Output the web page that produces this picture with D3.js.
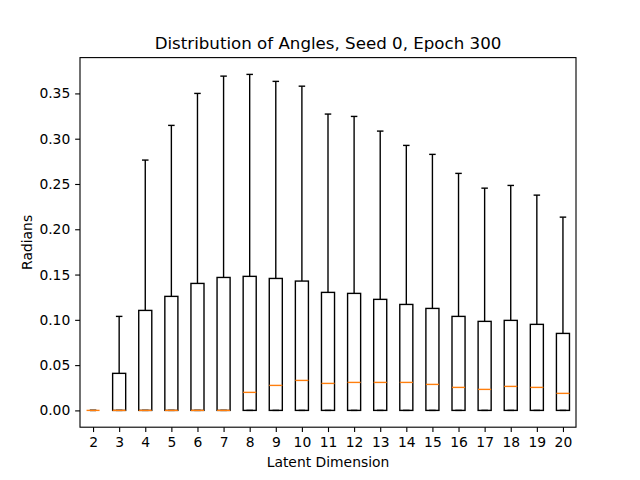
<!DOCTYPE html>
<html><head><meta charset="utf-8">
<script src="https://cdn.jsdelivr.net/npm/d3@7"></script>
<style>body{margin:0;background:#fff}svg{display:block}text{font-family:"DejaVu Sans",sans-serif}</style>
</head><body><svg id="c" width="640" height="480"></svg>
<script>
const categories = ["2","3","4","5","6","7","8","9","10","11","12","13","14","15","16","17","18","19","20"];
const whiskerLow = [0,0,0,0,0,0,0,0,0,0,0,0,0,0,0,0,0,0,0];
const q1 = [0,0,0,0,0,0,0,0,0,0,0,0,0,0,0,0,0,0,0];
const medians = [0,0,0,0,0,0,0.0199,0.0276,0.0331,0.0298,0.0309,0.0309,0.0309,0.0287,0.0254,0.0232,0.0265,0.0254,0.0188];
const q3 = [0,0.0409,0.1104,0.1259,0.1402,0.1468,0.148,0.1457,0.1428,0.1303,0.1292,0.1226,0.117,0.1126,0.1038,0.0983,0.0994,0.095,0.085];
const whiskerHigh = [0,0.1038,0.2764,0.3147,0.350,0.3691,0.371,0.3633,0.358,0.3272,0.3246,0.3084,0.2926,0.2827,0.2617,0.2454,0.2484,0.2377,0.2134];
const yTicks = [0,0.05,0.10,0.15,0.20,0.25,0.30,0.35];

const svg = d3.select("#c");
const L=80, R=576, T=57.6, B=427.2;
const pt = 100/72;
const x = d3.scaleLinear().domain([0.5, categories.length+0.5]).range([L,R]);
const ymax = d3.max(whiskerHigh), ymin = 0, pad=(ymax-ymin)*0.05;
const y = d3.scaleLinear().domain([ymin-pad, ymax+pad]).range([B,T]);

const data = categories.map((c,i)=>({c,i:i+1,lo:whiskerLow[i],q1:q1[i],med:medians[i],q3:q3[i],hi:whiskerHigh[i]}));
const g = svg.append("g");
const hw = 0.25, cw = 0.125;
data.forEach(d=>{
  const gg = g.append("g").attr("stroke","#000").attr("stroke-width",pt).attr("fill","none");
  gg.append("line").attr("x1",x(d.i)).attr("x2",x(d.i)).attr("y1",y(d.q3)).attr("y2",y(d.hi));
  gg.append("line").attr("x1",x(d.i)).attr("x2",x(d.i)).attr("y1",y(d.q1)).attr("y2",y(d.lo));
  gg.append("line").attr("x1",x(d.i-cw)).attr("x2",x(d.i+cw)).attr("y1",y(d.hi)).attr("y2",y(d.hi));
  gg.append("line").attr("x1",x(d.i-cw)).attr("x2",x(d.i+cw)).attr("y1",y(d.lo)).attr("y2",y(d.lo));
  gg.append("rect").attr("x",x(d.i-hw)).attr("width",x(d.i+hw)-x(d.i-hw))
    .attr("y",y(d.q3)).attr("height",Math.max(0,y(d.q1)-y(d.q3)));
  g.append("line").attr("x1",x(d.i-hw)).attr("x2",x(d.i+hw)).attr("y1",y(d.med)).attr("y2",y(d.med))
    .attr("stroke","#ff7f0e").attr("stroke-width",pt);
});

const xAxis = d3.axisBottom(x).tickValues(data.map(d=>d.i)).tickFormat((v,i)=>categories[i]).tickSize(3.5*pt).tickPadding(3.5*pt);
const yAxis = d3.axisLeft(y).tickValues(yTicks).tickFormat(d3.format(".2f")).tickSize(3.5*pt).tickPadding(3.5*pt);
const xa = svg.append("g").attr("transform",`translate(0,${B})`).call(xAxis);
const ya = svg.append("g").attr("transform",`translate(${L},0)`).call(yAxis);
[xa,ya].forEach(a=>{
  a.select(".domain").remove();
  a.selectAll("text").attr("font-size",10*pt).attr("fill","#000").style("font-family","DejaVu Sans");
  a.selectAll("line").attr("stroke","#000").attr("stroke-width",0.8*pt);
});
svg.append("rect").attr("x",L).attr("y",T).attr("width",R-L).attr("height",B-T)
  .attr("fill","none").attr("stroke","#000").attr("stroke-width",0.8*pt);

svg.append("text").attr("x",(L+R)/2).attr("y",T-6*pt).attr("text-anchor","middle").attr("font-size",12*pt).text("Distribution of Angles, Seed 0, Epoch 300");
svg.append("text").attr("x",(L+R)/2).attr("y",467).attr("text-anchor","middle").attr("font-size",10*pt).text("Latent Dimension");
svg.append("text").attr("transform",`translate(31.5,${(T+B)/2}) rotate(-90)`).attr("text-anchor","middle").attr("font-size",10*pt).text("Radians");
</script></body></html>
